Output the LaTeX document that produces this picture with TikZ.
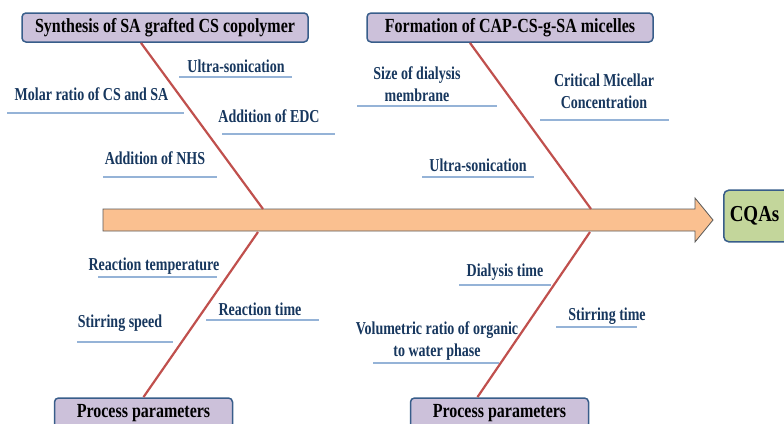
\documentclass[tikz,border=0pt]{standalone}
\usepackage{fontspec}
\setmainfont{Liberation Serif}
\usepackage{tikz}
\usetikzlibrary{positioning}
\definecolor{boxLavande}{RGB}{204,193,218}
\definecolor{bordBleu}{RGB}{56,93,138}
\definecolor{rougeArete}{RGB}{192,80,77}
\definecolor{orangeFleche}{RGB}{250,192,144}
\definecolor{vertCQA}{RGB}{195,214,155}
\definecolor{bleuTexte}{RGB}{23,55,94}
\definecolor{bleuTrait}{RGB}{149,179,215}

\begin{document}
\begin{tikzpicture}[x=1pt,y=-1pt,
  cause/.style={rectangle,rounded corners=4pt,draw=bordBleu,line width=1.5pt,
                fill=boxLavande,minimum height=23.2pt,inner sep=0pt,
                font=\fontsize{16}{19}\selectfont\bfseries,yscale=1.25},
  resultat/.style={rectangle,rounded corners=5pt,draw=bordBleu,line width=1.5pt,
                   fill=vertCQA,minimum height=43pt,text width=70pt,align=left,
                   inner xsep=6pt,inner ysep=0pt,anchor=west,
                   font=\fontsize{19}{22}\selectfont\bfseries,yscale=1.2},
  facteur/.style={text=bleuTexte,align=center,inner sep=0pt,
                  font=\fontsize{14}{17}\selectfont\bfseries,yscale=1.3},
  arete/.style={rougeArete,line width=2.2pt},
  trait/.style={bleuTrait,line width=1.1pt}]

  \useasboundingbox (0,0) rectangle (784,423);
  \clip (0,0) rectangle (784,423);

  % spine arrow
  \filldraw[fill=orangeFleche,draw=black!65,line width=0.8pt]
    (103,209) -- (695,209) -- (695,198) -- (713,220) -- (695,242)
    -- (695,231) -- (103,231) -- cycle;
  \coordinate (J1h) at (263,209);
  \coordinate (J1b) at (258,232);
  \coordinate (J2h) at (591,209);
  \coordinate (J2b) at (590,232);

  % category boxes
  \node[cause,minimum width=286pt] (SYN) at (165,27.5)
    {Synthesis of SA grafted CS copolymer};
  \node[cause,minimum width=286pt] (MIC) at (510,27.5)
    {Formation of CAP-CS-g-SA micelles};
  \node[cause,minimum width=178pt,minimum height=24pt] (PP1) at (143.5,413)
    {Process parameters};
  \node[cause,minimum width=178pt,minimum height=24pt] (PP2) at (499.5,413)
    {Process parameters};
  \node[resultat] (CQA) at (723,216) {CQAs};

  % bones
  \draw[arete] ([xshift=-24pt]SYN.south) -- (J1h);
  \draw[arete] (J1b) -- (PP1.north);
  \draw[arete] ([xshift=-40pt]MIC.south) -- (J2h);
  \draw[arete] (J2b) -- ([xshift=-22pt]PP2.north);

  % factors
  \node[facteur] (US1) at (236,66) {Ultra-sonication};
  \node[facteur] (MOL) at (91.5,94) {Molar ratio of CS and SA};
  \node[facteur] (EDC) at (269,116) {Addition of EDC};
  \node[facteur] (NHS) at (155,158) {Addition of NHS};
  \node[facteur] (MEM) at (417,84) {Size of dialysis\\membrane};
  \node[facteur] (CMC) at (604,91) {Critical Micellar\\Concentration};
  \node[facteur] (US2) at (478,165) {Ultra-sonication};
  \node[facteur] (RTE) at (154,266) {Reaction temperature};
  \node[facteur] (RTI) at (260,309) {Reaction time};
  \node[facteur] (SSP) at (120,323) {Stirring speed};
  \node[facteur] (DIA) at (505,272) {Dialysis time};
  \node[facteur] (STI) at (607,316) {Stirring time};
  \node[facteur] (VOL) at (437,341) {Volumetric ratio of organic\\to water phase};

  % underlines
  \draw[trait] (179,77) -- (292,77);
  \draw[trait] (7,113) -- (184,113);
  \draw[trait] (222,134) -- (335,134);
  \draw[trait] (103,177) -- (217,177);
  \draw[trait] (357,106) -- (497,106);
  \draw[trait] (540,120) -- (669,120);
  \draw[trait] (422,177) -- (534,177);
  \draw[trait] (98,277) -- (217,277);
  \draw[trait] (206,320) -- (319,320);
  \draw[trait] (77,342) -- (173,342);
  \draw[trait] (459,285) -- (551,285);
  \draw[trait] (556,327) -- (637,327);
  \draw[trait] (373,363) -- (499,363);
\end{tikzpicture}
\end{document}
